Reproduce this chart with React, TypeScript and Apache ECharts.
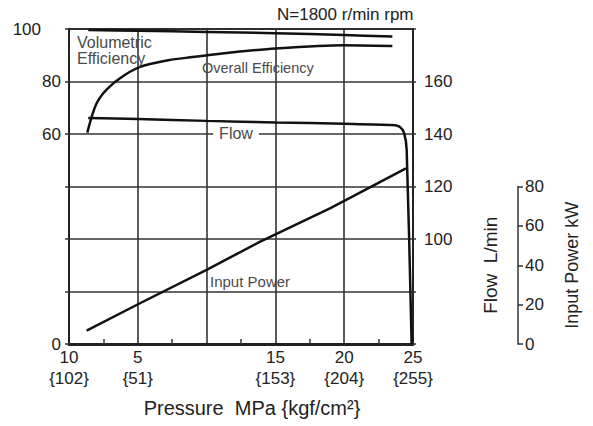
import React, { useEffect, useRef } from 'react';
import * as echarts from 'echarts';

// Pressure axis (MPa) and its tick labels
const pressureMin = 0;
const pressureMax = 25;
const pressureStep = 5;
const pressureTickValues = [0, 5, 10, 15, 20, 25];
const pressureTickMPa = ['10', '5', '', '15', '20', '25'];
const pressureTickKgf = ['{102}', '{51}', '', '{153}', '{204}', '{255}'];

// Efficiency axis (%) — left
const effMin = -20;
const effMax = 100;
const effStep = 20;
const effTickValues = [-20, 60, 80, 100];
const effTickText = ['0', '60', '80', '100'];

// Flow axis (L/min) — right
const flowMin = 60;
const flowMax = 180;
const flowStep = 20;
const flowTickValues = [100, 120, 140, 160];

// Input power axis (kW)
const powerMin = 0;
const powerMax = 80;
const powerStep = 20;
const powerAxisSpan = 160;

// Volumetric efficiency
const volPressure = [1.4, 5, 10, 15, 20, 23.5];
const volEff = [99.6, 99.3, 98.9, 98.4, 97.7, 97.1];

// Overall efficiency
const ovPressure = [1.33, 1.65, 2.01, 2.49, 3.1, 3.71, 4.43, 5.16, 5.89, 7.3, 8.8, 10.2, 12.4, 15, 19.9, 23.5];
const ovEff = [60.5, 66.6, 71.7, 75.5, 78.7, 81.2, 83.7, 85.6, 86.7, 88.2, 89.2, 90.1, 91.4, 92.6, 93.8, 93.5];

// Flow
const flowPressure = [1.4, 5, 10, 15, 20, 23.5, 24.05, 24.35, 24.54, 24.9];
const flowRate = [146.1, 145.7, 145.0, 144.4, 143.9, 143.4, 142.7, 140.4, 134, 60];

// Input power
const powerPressure = [1.28, 5.16, 10, 13.9, 19, 24.49];
const powerKW = [6.8, 20.7, 37.7, 52, 69, 89.2];

const zip = (xs: number[], ys: number[]) => xs.map((x, i) => [x, ys[i]]);

const FONT = 'Liberation Sans, Arial, sans-serif';
const INK = '#222';
const LINE = '#111';
const GRID = '#333';
const NOTE = '#4a4a4a';

export default function App() {
  const ref = useRef<HTMLDivElement>(null);

  useEffect(() => {
    if (!ref.current) return;
    const chart = echarts.init(ref.current, undefined, { renderer: 'svg' });

    const curve = (name: string, xs: number[], ys: number[], yAxisIndex: number, smooth: number | boolean) => ({
      name,
      type: 'line',
      xAxisIndex: 0,
      yAxisIndex,
      data: zip(xs, ys),
      symbol: 'none',
      smooth,
      lineStyle: { color: LINE, width: 2.5 },
      z: 5,
    });

    const option: any = {
      animation: false,
      textStyle: { fontFamily: FONT },
      grid: [
        { left: 69, top: 29, width: 344, height: 315, show: true, borderColor: INK, borderWidth: 2, backgroundColor: 'transparent' },
        { left: 518, top: 186.5, width: 1, height: 157.5 },
      ],
      xAxis: [
        {
          type: 'value',
          gridIndex: 0,
          min: pressureMin,
          max: pressureMax,
          interval: pressureStep,
          axisLine: { show: true, onZero: false, lineStyle: { color: INK, width: 3 } },
          axisTick: { show: false, inside: true },
          minorTick: { show: true, splitNumber: 2, length: 5, lineStyle: { color: GRID, width: 1.5 } },
          splitLine: { show: true, lineStyle: { color: GRID, width: 1.6 } },
          axisLabel: {
            fontSize: 17,
            color: INK,
            lineHeight: 21,
            margin: 3,
            formatter: (v: number) => {
              const i = pressureTickValues.indexOf(v);
              if (i < 0 || !pressureTickMPa[i]) return '';
              return pressureTickMPa[i] + '\n' + pressureTickKgf[i];
            },
          },
          name: 'Pressure  MPa {kgf/cm²}',
          nameLocation: 'middle',
          nameGap: 54,
          nameTextStyle: { fontSize: 20, color: INK, padding: [0, 0, 0, 22] },
        },
        { type: 'value', gridIndex: 1, show: false, min: 0, max: 1 },
      ],
      yAxis: [
        {
          type: 'value',
          gridIndex: 0,
          position: 'left',
          min: effMin,
          max: effMax,
          interval: effStep,
          axisLine: { show: true, onZero: false, lineStyle: { color: INK, width: 2 } },
          axisTick: { show: true, length: 4, lineStyle: { color: GRID, width: 1.5 } },
          splitLine: { show: true, lineStyle: { color: GRID, width: 1.6 } },
          axisLabel: {
            margin: 8,
            fontSize: 17,
            color: INK,
            formatter: (v: number) => {
              const i = effTickValues.indexOf(v);
              if (i < 0) return '';
              return v === effMax ? '{far|' + effTickText[i] + '}' : effTickText[i];
            },
            rich: { far: { padding: [0, 20, 0, 0], fontSize: 17, color: INK, fontFamily: FONT } },
          },
        },
        {
          type: 'value',
          gridIndex: 0,
          position: 'right',
          min: flowMin,
          max: flowMax,
          interval: flowStep,
          axisLine: { show: true, onZero: false, lineStyle: { color: INK, width: 2 } },
          axisTick: { show: true, length: 3, lineStyle: { color: GRID, width: 1.5 } },
          splitLine: { show: false },
          axisLabel: {
            margin: 11,
            fontSize: 17,
            color: INK,
            formatter: (v: number) => (flowTickValues.indexOf(v) >= 0 ? String(v) : ''),
          },
        },
        { type: 'value', gridIndex: 0, min: powerMin, max: powerAxisSpan, show: false },
        {
          type: 'value',
          gridIndex: 1,
          position: 'left',
          min: powerMin,
          max: powerMax,
          interval: powerStep,
          axisLine: { show: true, onZero: false, lineStyle: { color: GRID, width: 1.5 } },
          axisTick: { show: true, inside: true, length: 5, lineStyle: { color: GRID, width: 1.5 } },
          splitLine: { show: false },
          axisLabel: { inside: true, margin: 7, fontSize: 17, color: INK },
          name: 'Flow  L/min',
          nameLocation: 'middle',
          nameGap: 18,
          nameRotate: 90,
          nameTextStyle: { fontSize: 19, color: INK },
        },
        {
          type: 'value',
          gridIndex: 1,
          position: 'right',
          min: powerMin,
          max: powerMax,
          axisLine: { show: false, onZero: false },
          axisTick: { show: false },
          axisLabel: { show: false },
          splitLine: { show: false },
          name: 'Input Power kW',
          nameLocation: 'middle',
          nameGap: 44,
          nameRotate: 90,
          nameTextStyle: { fontSize: 18, color: INK },
        },
      ],
      series: [
        curve('Volumetric Efficiency', volPressure, volEff, 0, 0.3),
        curve('Overall Efficiency', ovPressure, ovEff, 0, 0.2),
        curve('Flow', flowPressure, flowRate, 1, 0.25),
        curve('Input Power', powerPressure, powerKW, 2, false),
      ],
      graphic: [
        { type: 'text', x: 277, y: 14, z: 10, style: { text: 'N=1800 r/min rpm', font: '17px ' + FONT, fill: INK, verticalAlign: 'middle' } },
        { type: 'text', x: 77, y: 34, z: 10, style: { text: 'Volumetric\nEfficiency', font: '16px ' + FONT, lineHeight: 16, fill: NOTE } },
        { type: 'text', x: 202, y: 68, z: 10, style: { text: 'Overall Efficiency', font: '14.5px ' + FONT, fill: NOTE, verticalAlign: 'middle' } },
        { type: 'text', x: 236, y: 133, z: 10, style: { text: 'Flow', font: '16px ' + FONT, fill: NOTE, align: 'center', verticalAlign: 'middle', backgroundColor: '#fff', padding: [1, 6] } },
        { type: 'text', x: 210, y: 281, z: 10, style: { text: 'Input Power', font: '15px ' + FONT, fill: NOTE, verticalAlign: 'middle' } },
      ],
    };

    chart.setOption(option);
    return () => chart.dispose();
  }, []);

  return <div ref={ref} style={{ position: 'fixed', left: 0, top: 0, width: 593, height: 426, background: '#fff' }} />;
}
